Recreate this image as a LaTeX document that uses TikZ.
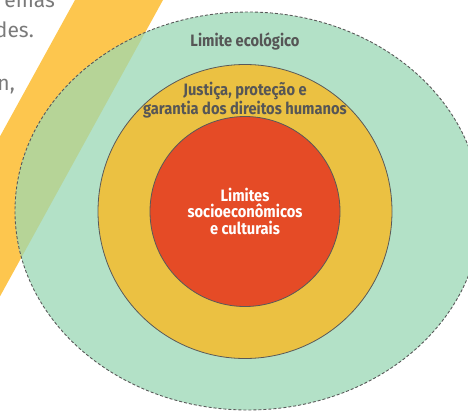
\documentclass[tikz,border=0pt]{standalone}
\usepackage{fontspec}
\setmainfont{Fira Sans}
\newfontfamily\labfont{Fira Sans}[FakeStretch=0.89]
\definecolor{ecogreen}{HTML}{B3E1C7}
\definecolor{justyellow}{HTML}{EBC142}
\definecolor{socred}{HTML}{E54B26}
\definecolor{stripe}{HTML}{FDC64E}
\definecolor{overlap}{HTML}{B6D497}
\definecolor{edge}{HTML}{595959}
\definecolor{labgray}{HTML}{565656}
\definecolor{bodygray}{HTML}{7A7A7A}
\tikzset{
  outerline/.style={draw=edge, line width=0.9pt, dash pattern=on 3pt off 2pt},
  innerline/.style={draw=edge, line width=0.8pt},
  lab/.style={font=\labfont\bfseries\fontsize{16.5}{16.5}\selectfont, text=labgray, align=center, inner sep=0pt},
  whitelab/.style={lab, text=white},
  bodytext/.style={font=\fontsize{21}{25}\selectfont, text=bodygray, inner sep=0pt}
}
\begin{document}
\begin{tikzpicture}[x=1pt,y=-1pt]
\useasboundingbox (0,0) rectangle (468,410);
% diagonal stripe
\fill[stripe] (80.5,-10) -- (168.5,-10) -- (-68,420) -- (-156,420) -- cycle;
% outer ellipse
\fill[ecogreen] (248,211) ellipse [x radius=233pt, y radius=199pt];
\begin{scope}
  \clip (248,211) ellipse [x radius=233pt, y radius=199pt];
  \fill[overlap] (80.5,-10) -- (168.5,-10) -- (-68,420) -- (-156,420) -- cycle;
\end{scope}
\draw[outerline] (248,211) ellipse [x radius=233pt, y radius=199pt];
% middle circle
\fill[justyellow] (245,211.5) circle [radius=147pt];
\draw[innerline] (245,211.5) circle [radius=147pt];
% inner circle
\fill[socred] (245,211.5) circle [radius=95pt];
\draw[innerline] (245,211.5) circle [radius=95pt];
% labels
\node[lab] (eco) at (245,41) {Limite ecológico};
\node[lab] (just) at (245,100) {Justiça, proteção e\\garantia dos direitos humanos};
\node[whitelab] (soc) at (245,211) {Limites\\socioeconômicos\\e culturais};
% cut-off body text
\node[bodytext, anchor=base east] (t1) at (55,7) {emas};
\node[bodytext, anchor=base east] (t2) at (34,37) {des.};
\node[bodytext, anchor=base east] (t3) at (15,90) {n,};
\end{tikzpicture}
\end{document}
